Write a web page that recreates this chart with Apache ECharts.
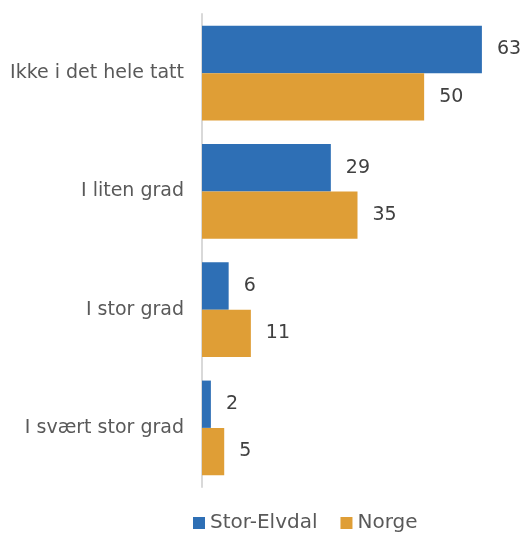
<!DOCTYPE html>
<html><head><meta charset="utf-8">
<script src="https://cdn.jsdelivr.net/npm/echarts@6/dist/echarts.min.js"></script>
<style>html,body{margin:0;padding:0;background:#fff}#c{width:530px;height:534px}</style>
</head><body><div id="c"></div>
<script>
const categories = ["Ikke i det hele tatt", "I liten grad", "I stor grad", "I svært stor grad"];
const seriesNames = ["Stor-Elvdal", "Norge"];
const storElvdal = [63, 29, 6, 2];
const norge = [50, 35, 11, 5];
const colors = ["#2E6FB5", "#DF9E36"];
const FONT = "DejaVu Sans";
const chart = echarts.init(document.getElementById('c'), null, {renderer: 'canvas'});
const mk = (name, data, color) => ({
  name, type: 'bar', data, barGap: '0%', barCategoryGap: '20%',
  itemStyle: {color},
  label: {show: true, position: 'right', distance: 15, color: '#404040', fontSize: 19, fontFamily: FONT},
  animation: false
});
chart.setOption({
  animation: false,
  textStyle: {fontFamily: FONT},
  grid: {left: 202, right: 17, top: 14, bottom: 47, containLabel: false},
  legend: {
    data: seriesNames, top: 508, left: 188, itemWidth: 12, itemHeight: 12, itemGap: 23, icon: 'rect',
    padding: 5,
    textStyle: {color: '#595959', fontSize: 20, fontFamily: FONT}
  },
  xAxis: {type: 'value', min: 0, max: 70, show: false, splitLine: {show: false}},
  yAxis: {
    type: 'category', data: categories, inverse: true,
    axisLine: {show: true, lineStyle: {color: '#D9D9D9', width: 2}},
    axisTick: {show: false},
    axisLabel: {color: '#595959', fontSize: 19, fontFamily: FONT, margin: 18}
  },
  series: [mk(seriesNames[0], storElvdal, colors[0]), mk(seriesNames[1], norge, colors[1])]
});
</script></body></html>
